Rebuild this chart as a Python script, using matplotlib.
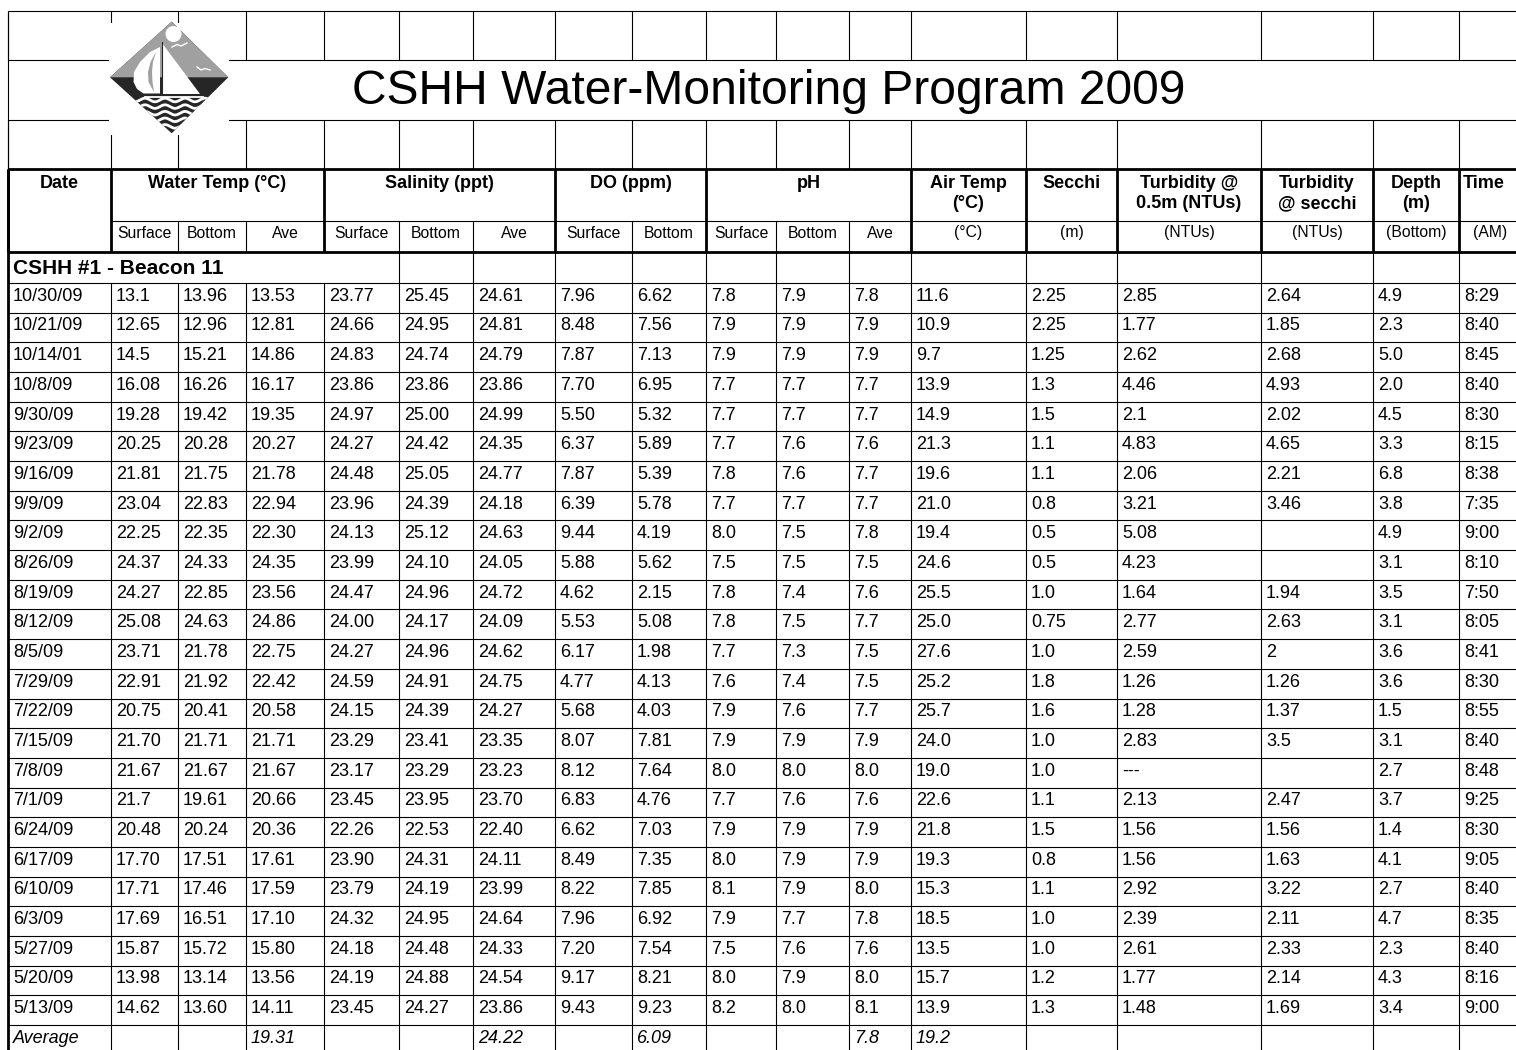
import matplotlib
matplotlib.use("Agg")
import matplotlib.pyplot as plt
import numpy as np
from matplotlib.patches import Polygon, Circle, Rectangle

plt.rcParams['font.family'] = ['Liberation Sans', 'DejaVu Sans']

title = "CSHH Water-Monitoring Program 2009"
station = "CSHH #1 - Beacon 11"

group_labels = ["Date", "Water Temp (°C)", "Salinity (ppt)", "DO (ppm)", "pH",
                "Air Temp\n(°C)", "Secchi", "Turbidity @\n0.5m (NTUs)",
                "Turbidity\n@ secchi", "Depth\n(m)", "Time"]
sub_labels = ["", "Surface", "Bottom", "Ave", "Surface", "Bottom", "Ave",
              "Surface", "Bottom", "Surface", "Bottom", "Ave",
              "(°C)", "(m)", "(NTUs)", "(NTUs)", "(Bottom)", "(AM)"]

dates = ["10/30/09", "10/21/09", "10/14/01", "10/8/09", "9/30/09", "9/23/09", "9/16/09",
         "9/9/09", "9/2/09", "8/26/09", "8/19/09", "8/12/09", "8/5/09", "7/29/09",
         "7/22/09", "7/15/09", "7/8/09", "7/1/09", "6/24/09", "6/17/09", "6/10/09",
         "6/3/09", "5/27/09", "5/20/09", "5/13/09"]
wt_surface = ["13.1", "12.65", "14.5", "16.08", "19.28", "20.25", "21.81", "23.04", "22.25",
              "24.37", "24.27", "25.08", "23.71", "22.91", "20.75", "21.70", "21.67", "21.7",
              "20.48", "17.70", "17.71", "17.69", "15.87", "13.98", "14.62"]
wt_bottom = ["13.96", "12.96", "15.21", "16.26", "19.42", "20.28", "21.75", "22.83", "22.35",
             "24.33", "22.85", "24.63", "21.78", "21.92", "20.41", "21.71", "21.67", "19.61",
             "20.24", "17.51", "17.46", "16.51", "15.72", "13.14", "13.60"]
wt_ave = ["13.53", "12.81", "14.86", "16.17", "19.35", "20.27", "21.78", "22.94", "22.30",
          "24.35", "23.56", "24.86", "22.75", "22.42", "20.58", "21.71", "21.67", "20.66",
          "20.36", "17.61", "17.59", "17.10", "15.80", "13.56", "14.11"]
sal_surface = ["23.77", "24.66", "24.83", "23.86", "24.97", "24.27", "24.48", "23.96", "24.13",
               "23.99", "24.47", "24.00", "24.27", "24.59", "24.15", "23.29", "23.17", "23.45",
               "22.26", "23.90", "23.79", "24.32", "24.18", "24.19", "23.45"]
sal_bottom = ["25.45", "24.95", "24.74", "23.86", "25.00", "24.42", "25.05", "24.39", "25.12",
              "24.10", "24.96", "24.17", "24.96", "24.91", "24.39", "23.41", "23.29", "23.95",
              "22.53", "24.31", "24.19", "24.95", "24.48", "24.88", "24.27"]
sal_ave = ["24.61", "24.81", "24.79", "23.86", "24.99", "24.35", "24.77", "24.18", "24.63",
           "24.05", "24.72", "24.09", "24.62", "24.75", "24.27", "23.35", "23.23", "23.70",
           "22.40", "24.11", "23.99", "24.64", "24.33", "24.54", "23.86"]
do_surface = ["7.96", "8.48", "7.87", "7.70", "5.50", "6.37", "7.87", "6.39", "9.44", "5.88",
              "4.62", "5.53", "6.17", "4.77", "5.68", "8.07", "8.12", "6.83", "6.62", "8.49",
              "8.22", "7.96", "7.20", "9.17", "9.43"]
do_bottom = ["6.62", "7.56", "7.13", "6.95", "5.32", "5.89", "5.39", "5.78", "4.19", "5.62",
             "2.15", "5.08", "1.98", "4.13", "4.03", "7.81", "7.64", "4.76", "7.03", "7.35",
             "7.85", "6.92", "7.54", "8.21", "9.23"]
ph_surface = ["7.8", "7.9", "7.9", "7.7", "7.7", "7.7", "7.8", "7.7", "8.0", "7.5", "7.8", "7.8",
              "7.7", "7.6", "7.9", "7.9", "8.0", "7.7", "7.9", "8.0", "8.1", "7.9", "7.5", "8.0", "8.2"]
ph_bottom = ["7.9", "7.9", "7.9", "7.7", "7.7", "7.6", "7.6", "7.7", "7.5", "7.5", "7.4", "7.5",
             "7.3", "7.4", "7.6", "7.9", "8.0", "7.6", "7.9", "7.9", "7.9", "7.7", "7.6", "7.9", "8.0"]
ph_ave = ["7.8", "7.9", "7.9", "7.7", "7.7", "7.6", "7.7", "7.7", "7.8", "7.5", "7.6", "7.7",
          "7.5", "7.5", "7.7", "7.9", "8.0", "7.6", "7.9", "7.9", "8.0", "7.8", "7.6", "8.0", "8.1"]
air_temp = ["11.6", "10.9", "9.7", "13.9", "14.9", "21.3", "19.6", "21.0", "19.4", "24.6", "25.5",
            "25.0", "27.6", "25.2", "25.7", "24.0", "19.0", "22.6", "21.8", "19.3", "15.3", "18.5",
            "13.5", "15.7", "13.9"]
secchi = ["2.25", "2.25", "1.25", "1.3", "1.5", "1.1", "1.1", "0.8", "0.5", "0.5", "1.0", "0.75",
          "1.0", "1.8", "1.6", "1.0", "1.0", "1.1", "1.5", "0.8", "1.1", "1.0", "1.0", "1.2", "1.3"]
turb_05m = ["2.85", "1.77", "2.62", "4.46", "2.1", "4.83", "2.06", "3.21", "5.08", "4.23", "1.64",
            "2.77", "2.59", "1.26", "1.28", "2.83", "---", "2.13", "1.56", "1.56", "2.92", "2.39",
            "2.61", "1.77", "1.48"]
turb_secchi = ["2.64", "1.85", "2.68", "4.93", "2.02", "4.65", "2.21", "3.46", "", "", "1.94",
               "2.63", "2", "1.26", "1.37", "3.5", "", "2.47", "1.56", "1.63", "3.22", "2.11",
               "2.33", "2.14", "1.69"]
depth = ["4.9", "2.3", "5.0", "2.0", "4.5", "3.3", "6.8", "3.8", "4.9", "3.1", "3.5", "3.1", "3.6",
         "3.6", "1.5", "3.1", "2.7", "3.7", "1.4", "4.1", "2.7", "4.7", "2.3", "4.3", "3.4"]
sample_time = ["8:29", "8:40", "8:45", "8:40", "8:30", "8:15", "8:38", "7:35", "9:00", "8:10",
               "7:50", "8:05", "8:41", "8:30", "8:55", "8:40", "8:48", "9:25", "8:30", "9:05",
               "8:40", "8:35", "8:40", "8:16", "9:00"]
averages = ["Average", "", "", "19.31", "", "", "24.22", "", "6.09", "", "", "7.8", "19.2",
            "", "", "", "", ""]

columns = [dates, wt_surface, wt_bottom, wt_ave, sal_surface, sal_bottom, sal_ave,
           do_surface, do_bottom, ph_surface, ph_bottom, ph_ave, air_temp, secchi,
           turb_05m, turb_secchi, depth, sample_time]

# layout in pixels
W, H = 1516, 1050
col_x = [8, 111, 178, 246, 324, 399, 473, 555, 632, 706, 776, 849, 911,
         1026, 1117, 1261, 1373, 1459, 1521]
group_cols = [0, 1, 4, 7, 9, 12, 13, 14, 15, 16, 17, 18]   # column index where each group starts
top_y = [11, 60, 120, 169]
head_y = [169, 221, 252, 283]
row_h = 29.68
n = len(dates)
row_y = [283 + i * row_h for i in range(n + 2)]
thin, thick = 0.8, 2.0

fig = plt.figure(figsize=(W / 100, H / 100), dpi=100)
ax = fig.add_axes([0, 0, 1, 1])
ax.set_xlim(0, W)
ax.set_ylim(H, 0)
ax.axis('off')

# top block (empty spreadsheet rows + title row)
ax.hlines(top_y[:3], col_x[0], W, color='black', lw=thin)
ax.vlines(col_x[:-1], top_y[0], top_y[1], color='black', lw=thin)
ax.vlines(col_x[:-1], top_y[2], top_y[3], color='black', lw=thin)
ax.vlines(col_x[0], top_y[0], top_y[3], color='black', lw=thin)

# header block
ax.hlines([head_y[0], head_y[2]], col_x[0], W, color='black', lw=thick)
ax.hlines(head_y[1], col_x[1], W, color='black', lw=thin)
group_x = [col_x[i] for i in group_cols]
ax.vlines(group_x[:-1], head_y[0], head_y[2], color='black', lw=thick)
inner_x = [x for x in col_x[:-1] if x not in group_x]
ax.vlines(inner_x, head_y[1], head_y[2], color='black', lw=thin)

for i, lab in enumerate(group_labels):
    x0 = group_x[i]
    x1 = group_x[i + 1]
    for j, line in enumerate(lab.split("\n")):
        if lab == "Time":
            ax.text(x0 + 4, 187.5 + 21 * j, line, ha='left', va='baseline',
                    fontsize=13, fontweight='bold')
        else:
            ax.text((x0 + x1) / 2, 187.5 + 21 * j, line, ha='center', va='baseline',
                    fontsize=13, fontweight='bold')

for i, lab in enumerate(sub_labels):
    ax.text((col_x[i] + col_x[i + 1]) / 2, 237.5, lab, ha='center', va='baseline', fontsize=11.3)

# station row
ax.vlines(col_x[5:-1], head_y[2], head_y[3], color='black', lw=thin)
ax.text(col_x[0] + 5, 274, station, ha='left', va='baseline', fontsize=15, fontweight='bold')

# data rows
ax.hlines(row_y[:-1], col_x[0], W, color='black', lw=thin)
ax.vlines(col_x[1:-1], row_y[0], H, color='black', lw=thin)
ax.vlines(col_x[0], head_y[0], H, color='black', lw=thick)

for c, values in enumerate(columns):
    for r, v in enumerate(values):
        ax.text(col_x[c] + 5, row_y[r] + 17.8, v, ha='left', va='baseline', fontsize=13)
for c, v in enumerate(averages):
    ax.text(col_x[c] + 5, row_y[n] + 17.8, v, ha='left', va='baseline', fontsize=13,
            style='italic')

# title
ax.text(769, 104, title, ha='center', va='baseline', fontsize=34.6)

# logo: white box over the grid, then a diamond with a sailboat
ax.add_patch(Rectangle((109, 23), 120, 112, facecolor='white', edgecolor='none', zorder=3))
top = (171.7, 21.7)
left = (110, 77.3)
right = (228.3, 77.3)
bottom = (171.7, 133.3)
diamond = Polygon([top, right, bottom, left], closed=True, facecolor='#262626',
                  edgecolor='none', zorder=4)
ax.add_patch(diamond)
ax.add_patch(Polygon([top, right, left], closed=True, facecolor='#a0a0a0',
                     edgecolor='none', zorder=5))
ax.add_patch(Circle((173.5, 34), 8, facecolor='white', edgecolor='none', zorder=6))

wx = np.linspace(105, 235, 200)
for k in range(5):
    wv, = ax.plot(wx, 100 + 6.6 * k + 1.8 * np.sin((wx - 110) / 20 * 2 * np.pi),
                  color='white', lw=2.0, zorder=6)
    wv.set_clip_path(diamond)

ax.add_patch(Polygon([(162, 43), (200, 94), (162, 94)], closed=True,
                     facecolor='white', edgecolor='none', zorder=7))
ax.add_patch(Polygon([(160, 47), (150, 52), (140, 62), (134, 72), (133.5, 82), (137, 89),
                      (143.5, 93.5), (160, 93.5)], closed=True,
                     facecolor='white', edgecolor='none', zorder=7))
ax.add_patch(Polygon([(156, 52), (150.5, 62), (148, 72), (148.5, 82), (154, 92), (152.5, 82),
                      (152, 72), (153, 62)], closed=True,
                     facecolor='#a0a0a0', edgecolor='none', zorder=8))
ax.plot([161.7, 161.7], [42, 95], color='#262626', lw=0.8, zorder=8)
ax.plot([145, 203], [96.5, 96.5], color='white', lw=1.3, zorder=7)
ax.plot([172, 177, 181, 187], [47, 44.5, 46, 43], color='white', lw=1.0, zorder=7)
ax.plot([197, 201, 205, 210], [67, 70, 68.5, 70], color='white', lw=1.0, zorder=7)

fig.savefig("out.png", dpi=100)
